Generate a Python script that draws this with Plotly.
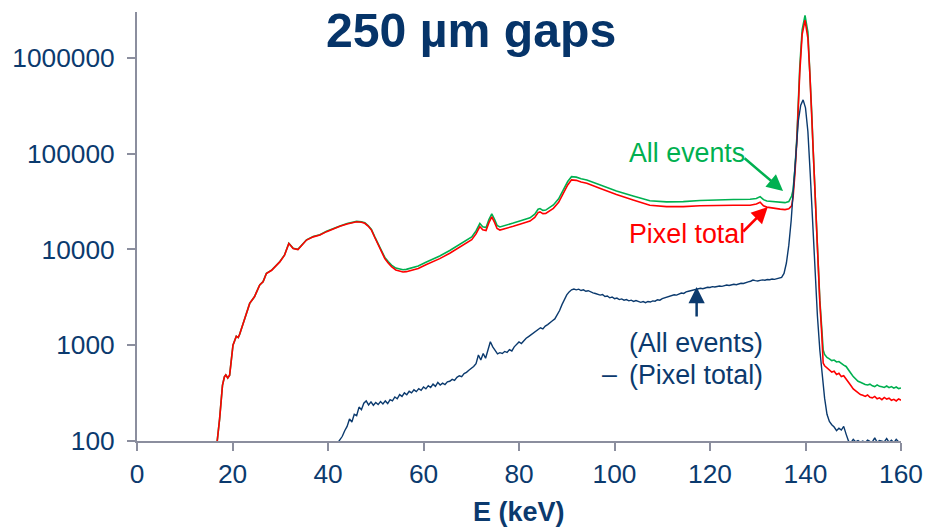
import plotly.graph_objects as go

# ---------------- data ----------------
energy_smooth = [16.7, 17.3, 17.9, 18.3, 18.6, 19.0, 19.4, 20.1, 20.8, 21.2, 21.5, 22.6, 23.6, 24.6,
                 25.7, 26.4, 27.1, 28.2, 29.0, 29.9, 30.9, 31.4, 31.8, 32.3, 32.7, 33.7, 34.5, 35.5,
                 36.9, 38.3, 39.7, 41.0, 42.5, 44.0, 46.0, 47.0, 47.7, 48.4, 49.1, 49.8, 50.5, 51.2,
                 51.9, 52.6, 53.3, 54.2, 55.0, 55.7, 56.4, 57.5, 58.9, 60.5, 62.0, 63.4, 65.5, 67.6,
                 69.0, 70.1, 71.0, 71.8, 72.4, 73.1, 73.7, 74.3, 74.9, 75.4, 76.0, 77.5, 78.8, 80.5,
                 82.3, 83.3, 84.0, 84.4, 85.0, 85.6, 87.2, 88.3, 89.3, 90.2, 91.0, 92.0, 93.0, 94.2,
                 96.9, 100.4, 103.9, 107.4, 110.9, 114.4, 117.9, 121.4, 124.9, 128.4, 129.7, 130.5,
                 131.2, 131.9, 133.3, 134.7, 135.7, 136.5, 137.1, 137.4, 137.8, 138.2, 138.8, 139.3,
                 139.9, 140.5, 140.9, 141.3, 141.6, 142.0, 142.3, 142.7, 143.0, 143.4, 143.7, 144.0,
                 144.5, 145.0, 145.5, 146.0, 146.5, 147.0, 147.5, 148.0, 148.5, 149.0, 149.5, 150.0,
                 150.5, 151.0, 151.5, 152.0, 152.5, 153.0, 153.5, 154.0, 154.5, 155.0, 155.5, 156.0,
                 156.5, 157.0, 157.5, 158.0, 158.5, 159.0, 159.5, 160.0]

pixel_total = [90, 170, 380, 466, 490, 455, 486, 1000, 1240, 1200, 1300, 1980, 2730, 3200,
               4250, 4590, 5600, 6050, 6600, 7400, 8700, 10500, 11500, 10800, 10200, 9960, 11000, 12500,
               13500, 14100, 15300, 16300, 17400, 18400, 19400, 19200, 18700, 17500, 15900, 13300, 11100, 9400,
               8000, 7200, 6600, 6100, 5890, 5800, 5850, 6050, 6320, 6900, 7400, 8000, 9100, 10500,
               11600, 12600, 14500, 17300, 16000, 15700, 19000, 21800, 19000, 16500, 15900, 16600, 17400, 18500,
               19700, 21500, 24200, 24600, 23600, 23700, 26800, 31000, 38400, 47000, 53100, 52500, 50500, 49000,
               43500, 37300, 32800, 28900, 27900, 27900, 28500, 28900, 28900, 28900, 29800, 31000,
               28500, 27600, 26800, 26300, 26000, 26500, 28500, 35000, 63000, 140000, 700000, 1750000,
               2460000, 1600000, 700000, 243000, 100000, 32700, 14000, 6600, 2800, 1320, 650, 610,
               580, 560, 525, 535, 495, 510, 470, 480, 445, 420, 380, 350,
               335, 318, 305, 300, 292, 302, 286, 282, 292, 276, 282, 270,
               285, 274, 280, 266, 272, 262, 275, 266]

all_events = [90, 170, 380, 466, 490, 455, 486, 1000, 1240, 1200, 1300, 1980, 2730, 3200,
              4260, 4600, 5620, 6070, 6620, 7430, 8740, 10550, 11560, 10860, 10260, 10020, 11070, 12580,
              13600, 14200, 15420, 16430, 17550, 18580, 19600, 19420, 18920, 17720, 16120, 13520, 11320, 9620,
              8230, 7450, 6860, 6380, 6200, 6120, 6180, 6400, 6700, 7330, 7880, 8530, 9720, 11230,
              12420, 13500, 15550, 18600, 17200, 16900, 20450, 23500, 20500, 17800, 17150, 17920, 18800, 20000,
              21300, 23250, 26200, 26650, 25550, 25700, 29100, 33700, 41700, 51000, 57300, 56700, 54600, 53000,
              47200, 40700, 36000, 32100, 31300, 31500, 32300, 32900, 33100, 33300, 34000, 35500,
              33000, 31900, 31300, 30900, 30700, 31500, 36000, 41800, 70000, 150000, 800000, 1950000,
              2760000, 1850000, 800000, 270000, 110000, 36000, 14700, 7200, 2950, 1500, 890, 800,
              745, 720, 690, 700, 668, 675, 640, 620, 600, 560, 510, 470,
              440, 420, 410, 398, 388, 384, 392, 376, 370, 385, 372, 368,
              362, 375, 360, 370, 356, 366, 352, 358]

energy_diff = [42.0, 42.5, 43.0, 43.5, 44.0, 44.5, 45.0, 45.5, 46.0, 46.5, 47.0, 47.5, 48.0, 48.5,
               49.0, 49.5, 50.0, 50.5, 51.0, 51.5, 52.0, 52.5, 53.0, 53.5, 54.0, 54.5, 55.0, 55.5,
               56.0, 56.5, 57.0, 57.5, 58.0, 58.5, 59.0, 59.5, 60.0, 60.5, 61.0, 61.5, 62.0, 62.5,
               63.0, 63.5, 64.0, 64.5, 65.0, 65.5, 66.0, 66.5, 67.0, 67.5, 68.0, 68.5, 69.0, 69.5,
               70.0, 70.5, 71.0, 71.5, 72.0, 72.5, 73.0, 73.5, 74.0, 74.5, 75.0, 75.5, 76.0, 76.5,
               77.0, 77.5, 78.0, 78.5, 79.0, 79.5, 80.0, 80.5, 81.0, 81.5, 82.0, 82.5, 83.0, 83.5,
               84.0, 84.5, 85.0, 85.5, 86.0, 86.5, 87.0, 87.5, 88.0, 88.5, 89.0, 89.5, 90.0, 90.5,
               91.0, 91.5, 92.0, 92.5, 93.0, 93.5, 94.0, 94.5, 95.0, 95.5, 96.0, 96.5, 97.0, 97.5,
               98.0, 98.5, 99.0, 99.5, 100.0, 100.5, 101.0, 101.5, 102.0, 102.5, 103.0, 103.5, 104.0, 104.5,
               105.0, 105.5, 106.0, 106.5, 107.0, 107.5, 108.0, 108.5, 109.0, 109.5, 110.0, 110.5, 111.0, 111.5,
               112.0, 112.5, 113.0, 113.5, 114.0, 114.5, 115.0, 115.5, 116.0, 116.5, 117.0, 117.5, 118.0, 118.5,
               119.0, 119.5, 120.0, 120.5, 121.0, 121.5, 122.0, 122.5, 123.0, 123.5, 124.0, 124.5, 125.0, 125.5,
               126.0, 126.5, 127.0, 127.5, 128.0, 128.5, 129.0, 129.5, 130.0, 130.5, 131.0, 131.5, 132.0, 132.5,
               133.0, 133.5, 134.0, 134.5, 135.0, 135.5, 136.0, 136.5, 137.0, 137.5, 138.0, 138.5, 139.0, 139.5,
               140.0, 140.5, 141.0, 141.5, 142.0, 142.5, 143.0, 143.5, 144.0, 144.5, 145.0, 145.5, 146.0, 146.5,
               147.0, 147.5, 148.0, 148.5, 149.0, 149.5, 150.0, 150.5, 151.0, 151.5, 152.0, 152.5, 153.0, 153.5,
               154.0, 154.5, 155.0, 155.5, 156.0, 156.5, 157.0, 157.5, 158.0, 158.5, 159.0, 159.5, 160.0]

difference = [95, 104, 112, 128, 142, 170, 158, 190, 184, 226, 212, 248, 262, 238,
              256, 236, 252, 240, 258, 244, 262, 246, 270, 262, 288, 276, 305, 292,
              318, 304, 330, 318, 342, 328, 352, 338, 366, 350, 378, 362, 392, 372,
              408, 384, 402, 388, 414, 420, 440, 428, 462, 480, 470, 505, 520, 548,
              570, 598, 640, 790, 700, 820, 730, 900, 1085, 960, 880, 810, 835, 820,
              860, 840, 900, 870, 960, 1010, 1080, 1040, 1120, 1180, 1230, 1280, 1320, 1390,
              1450, 1520, 1480, 1580, 1640, 1700, 1800, 1880, 2050, 2300, 2650, 3000, 3350, 3600,
              3780, 3850, 3780, 3840, 3720, 3780, 3650, 3700, 3580, 3520, 3460, 3420, 3330, 3380,
              3220, 3260, 3120, 3180, 3060, 3100, 2990, 3040, 2950, 2990, 2900, 2950, 2860, 2920,
              2840, 2800, 2850, 2780, 2860, 2820, 2900, 2880, 2980, 2950, 3060, 3120, 3180, 3230,
              3300, 3360, 3330, 3450, 3500, 3470, 3600, 3650, 3700, 3780, 3850, 3880, 3920, 3880,
              3980, 4020, 4000, 4080, 4050, 4120, 4150, 4110, 4200, 4240, 4200, 4300, 4320, 4280,
              4380, 4420, 4400, 4520, 4580, 4650, 4780, 4720, 4680, 4750, 4800, 4760, 4850, 4820,
              4900, 4860, 4950, 5000, 5100, 5600, 7200, 11000, 20000, 45000, 110000, 220000, 320000, 363000,
              300000, 170000, 60000, 18000, 5200, 2000, 890, 460, 280, 190, 160, 148, 140, 128,
              136, 130, 142, 118, 100, 96, 104, 98, 101, 97, 100, 96, 102, 99,
              98, 108, 97, 101, 99, 98, 106, 97, 102, 96, 104, 98, 96]

x_ticks = [0, 20, 40, 60, 80, 100, 120, 140, 160]
y_ticks = [100, 1000, 10000, 100000, 1000000]
y_tick_text = ["100", "1000", "10000", "100000", "1000000"]

# ---------------- styles ----------------
GREEN = "#00b050"
RED = "#ff0000"
NAVY = "#0b3a6e"
TXT = "#0b3a6e"
AXIS = "#8b8e9e"
FONT = "Arial, Liberation Sans, sans-serif"
ANN = 26.8

fig = go.Figure()
fig.add_trace(go.Scatter(x=energy_smooth, y=all_events, mode="lines",
                         line=dict(color=GREEN, width=1.6), name="All events"))
fig.add_trace(go.Scatter(x=energy_smooth, y=pixel_total, mode="lines",
                         line=dict(color=RED, width=1.6), name="Pixel total"))
fig.add_trace(go.Scatter(x=energy_diff, y=difference, mode="lines",
                         line=dict(color=NAVY, width=1.4), name="difference"))

fig.update_layout(
    width=927, height=528,
    margin=dict(l=137, r=26, t=12, b=87, autoexpand=False),
    paper_bgcolor="white", plot_bgcolor="white",
    showlegend=False,
    font=dict(family=FONT, color=TXT, size=26),
)
fig.update_xaxes(range=[0, 160], tickvals=x_ticks, showgrid=False, zeroline=False,
                 automargin=False,
                 showline=True, linecolor=AXIS, linewidth=2,
                 ticks="outside", ticklen=8, tickwidth=2, tickcolor=AXIS,
                 tickfont=dict(size=26.3, color=TXT, family=FONT), ticklabelstandoff=0)
fig.update_yaxes(type="log", range=[2, 6.477], tickvals=y_ticks, ticktext=y_tick_text,
                 showgrid=False, zeroline=False, automargin=False,
                 showline=True, linecolor=AXIS, linewidth=2,
                 ticks="outside", ticklen=8, tickwidth=2, tickcolor=AXIS,
                 tickfont=dict(size=26.3, color=TXT, family=FONT), ticklabelstandoff=7)

anns = [
    # title
    dict(text="<b>250 µm gaps</b>", xref="paper", yref="paper", x=0.4373, y=0.958,
         xanchor="center", yanchor="middle", showarrow=False,
         font=dict(size=48.2, color="#063469", family=FONT)),
    # x axis title
    dict(text="<b>E (keV)</b>", xref="paper", yref="paper", x=0.5, y=-0.166,
         xanchor="center", yanchor="middle", showarrow=False,
         font=dict(size=27, color=TXT, family=FONT)),
    # labels
    dict(text="All events", x=102.6, y=5.006, xanchor="left", yanchor="middle",
         showarrow=False, font=dict(size=ANN, color=GREEN)),
    dict(text="Pixel total", x=102.6, y=4.165, xanchor="left", yanchor="middle",
         showarrow=False, font=dict(size=ANN, color=RED)),
    dict(text="(All events)", x=102.6, y=3.021, xanchor="left", yanchor="middle",
         showarrow=False, font=dict(size=ANN, color=TXT)),
    dict(text="(Pixel total)", x=102.6, y=2.686, xanchor="left", yanchor="middle",
         showarrow=False, font=dict(size=ANN, color=TXT)),
    dict(text="–", x=99.0, y=2.70, xanchor="center", yanchor="middle",
         showarrow=False, font=dict(size=ANN, color=TXT)),
    # arrows
    dict(text="", x=135.3, y=4.609, ax=-40, ay=-34, showarrow=True,
         arrowhead=2, arrowsize=1.3, arrowwidth=2.5, arrowcolor=GREEN, standoff=0, startstandoff=0),
    dict(text="", x=132.1, y=4.442, ax=-26, ay=26, showarrow=True,
         arrowhead=2, arrowsize=1.3, arrowwidth=2.5, arrowcolor=RED, standoff=0, startstandoff=0),
    dict(text="", x=117.2, y=3.606, ax=0, ay=31, showarrow=True,
         arrowhead=2, arrowsize=1.3, arrowwidth=2.5, arrowcolor=NAVY, standoff=0, startstandoff=0),
]
fig.update_layout(annotations=anns)

fig.write_html("out.html")
